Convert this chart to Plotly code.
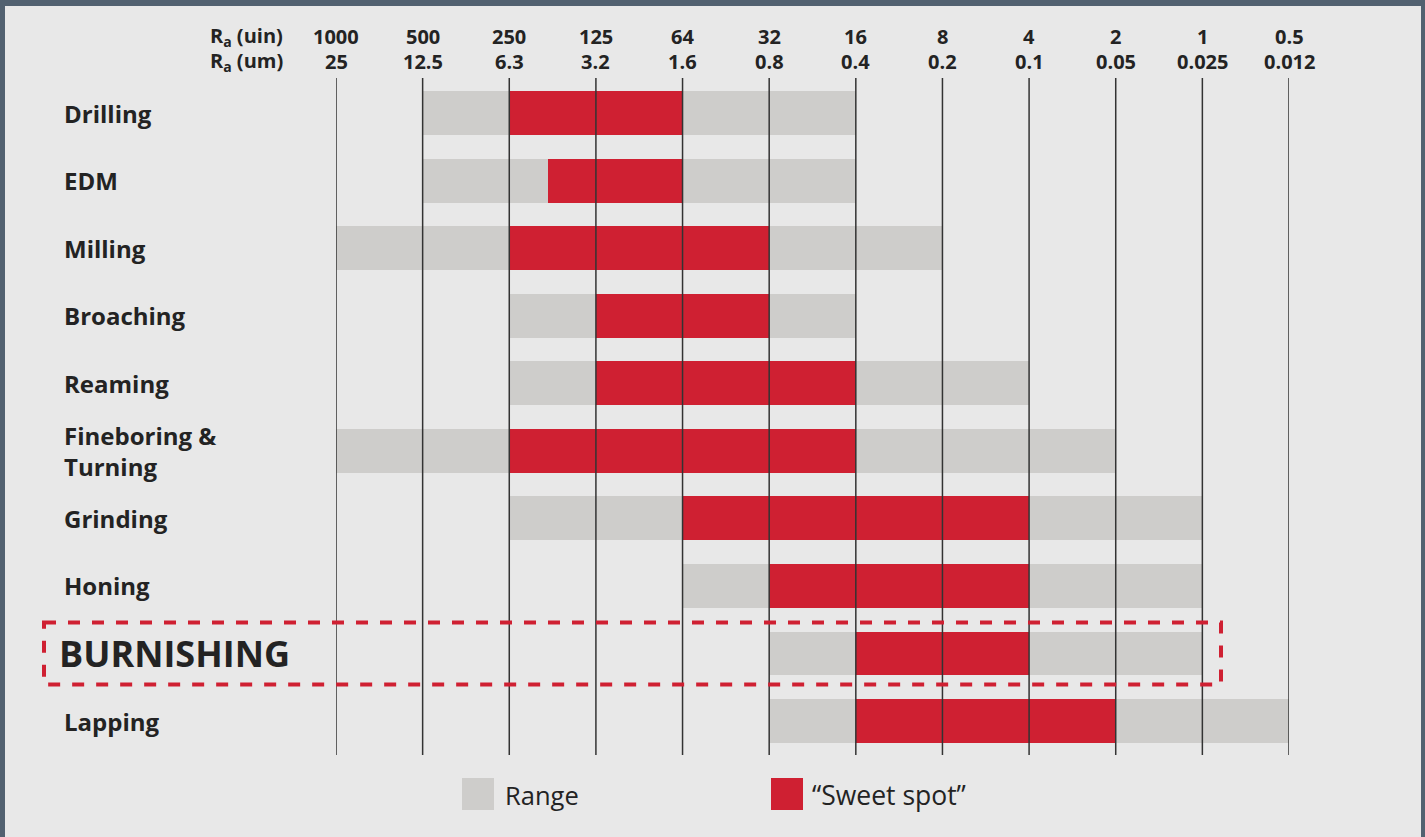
import plotly.graph_objects as go

# ---- data ----
processes = ["Drilling", "EDM", "Milling", "Broaching", "Reaming",
             "Fineboring &<br>Turning", "Grinding", "Honing", "BURNISHING", "Lapping"]
range_start = [1, 1, 0, 2, 2, 0, 2, 4, 5, 5]
range_end = [6, 6, 7, 6, 8, 9, 10, 10, 10, 11]
sweet_start = [2, 2.45, 2, 3, 3, 2, 4, 5, 6, 6]
sweet_end = [4, 4, 5, 5, 6, 6, 8, 8, 8, 9]
uin_labels = ["1000", "500", "250", "125", "64", "32", "16", "8", "4", "2", "1", "0.5"]
um_labels = ["25", "12.5", "6.3", "3.2", "1.6", "0.8", "0.4", "0.2", "0.1", "0.05", "0.025", "0.012"]
highlight = "BURNISHING"

# ---- style ----
W, H = 1425, 837
L, R, T, B = 336, 136, 78, 82
PW, PH = W - L - R, H - T - B
RED = "#CF2032"
GRAY = "#CECDCB"
BG = "#E8E8E8"
FRAME = "#526170"
TXT = "#232323"
FONT = "Open Sans"


def px(xp):
    return (xp - L) / PW


def py(yp):
    return 1 - (yp - T) / PH


rows = list(range(len(processes)))
fig = go.Figure()
fig.add_trace(go.Bar(
    orientation="h", y=rows, base=range_start,
    x=[e - s for s, e in zip(range_start, range_end)],
    marker=dict(color=GRAY, line=dict(width=0)), width=0.65,
    name="Range", showlegend=False, hoverinfo="skip"))
fig.add_trace(go.Bar(
    orientation="h", y=rows, base=sweet_start,
    x=[e - s for s, e in zip(sweet_start, sweet_end)],
    marker=dict(color=RED, line=dict(width=0)), width=0.65,
    name="“Sweet spot”", showlegend=False, hoverinfo="skip"))

shapes = []
# frame background
shapes.append(dict(type="rect", xref="paper", yref="paper", layer="below",
                   x0=px(5), x1=px(1421), y0=py(837), y1=py(6),
                   fillcolor=BG, line=dict(width=0)))
# vertical grid lines above bars
for i in range(len(uin_labels)):
    shapes.append(dict(type="line", xref="x", yref="paper", layer="above",
                       x0=i, x1=i, y0=0, y1=1,
                       line=dict(color="#333333", width=1.5)))
# dashed highlight box
hi = processes.index(highlight)
shapes.append(dict(type="rect", xref="paper", yref="y", layer="above",
                   x0=px(44), x1=px(1221), y0=hi - 0.46, y1=hi + 0.46,
                   line=dict(color=RED, width=4, dash="dash")))
# legend squares
shapes.append(dict(type="rect", xref="paper", yref="paper",
                   x0=px(462), x1=px(494), y0=py(810), y1=py(778),
                   fillcolor=GRAY, line=dict(width=0)))
shapes.append(dict(type="rect", xref="paper", yref="paper",
                   x0=px(771), x1=px(803), y0=py(810), y1=py(778),
                   fillcolor=RED, line=dict(width=0)))

HF = dict(size=20, color=TXT, family=FONT)
ann = []
for i, (u, m) in enumerate(zip(uin_labels, um_labels)):
    ann.append(dict(x=i, y=py(37), xref="x", yref="paper", text=f"<b>{u}</b>",
                    xanchor="center", yanchor="middle", showarrow=False, font=HF))
    ann.append(dict(x=i, y=py(61), xref="x", yref="paper", text=f"<b>{m}</b>",
                    xanchor="center", yanchor="middle", showarrow=False, font=HF))
ann.append(dict(x=px(285), y=py(37), xref="paper", yref="paper", xanchor="right",
                yanchor="middle", text="<b>R<sub>a</sub> (uin)</b>", showarrow=False, font=HF))
ann.append(dict(x=px(285), y=py(61), xref="paper", yref="paper", xanchor="right",
                yanchor="middle", text="<b>R<sub>a</sub> (um)</b>", showarrow=False, font=HF))
for i, p in enumerate(processes):
    big = p == highlight
    ann.append(dict(x=px(57 if big else 62), y=i, xref="paper", yref="y", xanchor="left",
                    yanchor="middle", align="left", text=f"<b>{p}</b>", showarrow=False,
                    font=dict(size=36 if big else 24, color=TXT, family=FONT)))
ann.append(dict(x=px(503), y=py(795), xref="paper", yref="paper", xanchor="left",
                yanchor="middle", text="Range", showarrow=False,
                font=dict(size=25.5, color=TXT, family=FONT)))
ann.append(dict(x=px(810), y=py(795), xref="paper", yref="paper", xanchor="left",
                yanchor="middle", text="“Sweet spot”", showarrow=False,
                font=dict(size=26.5, color=TXT, family=FONT)))

fig.update_layout(
    width=W, height=H, margin=dict(l=L, r=R, t=T, b=B),
    paper_bgcolor=FRAME, plot_bgcolor="rgba(0,0,0,0)",
    barmode="overlay", bargap=0,
    xaxis=dict(range=[0, len(uin_labels) - 1], showgrid=False, zeroline=False,
               showticklabels=False, fixedrange=True),
    yaxis=dict(range=[9.503, -0.518], showgrid=False, zeroline=False,
               showticklabels=False, fixedrange=True),
    shapes=shapes, annotations=ann, showlegend=False,
)
fig.write_html("out.html", config={"displayModeBar": False},
               post_script="document.body.style.margin='0';")
